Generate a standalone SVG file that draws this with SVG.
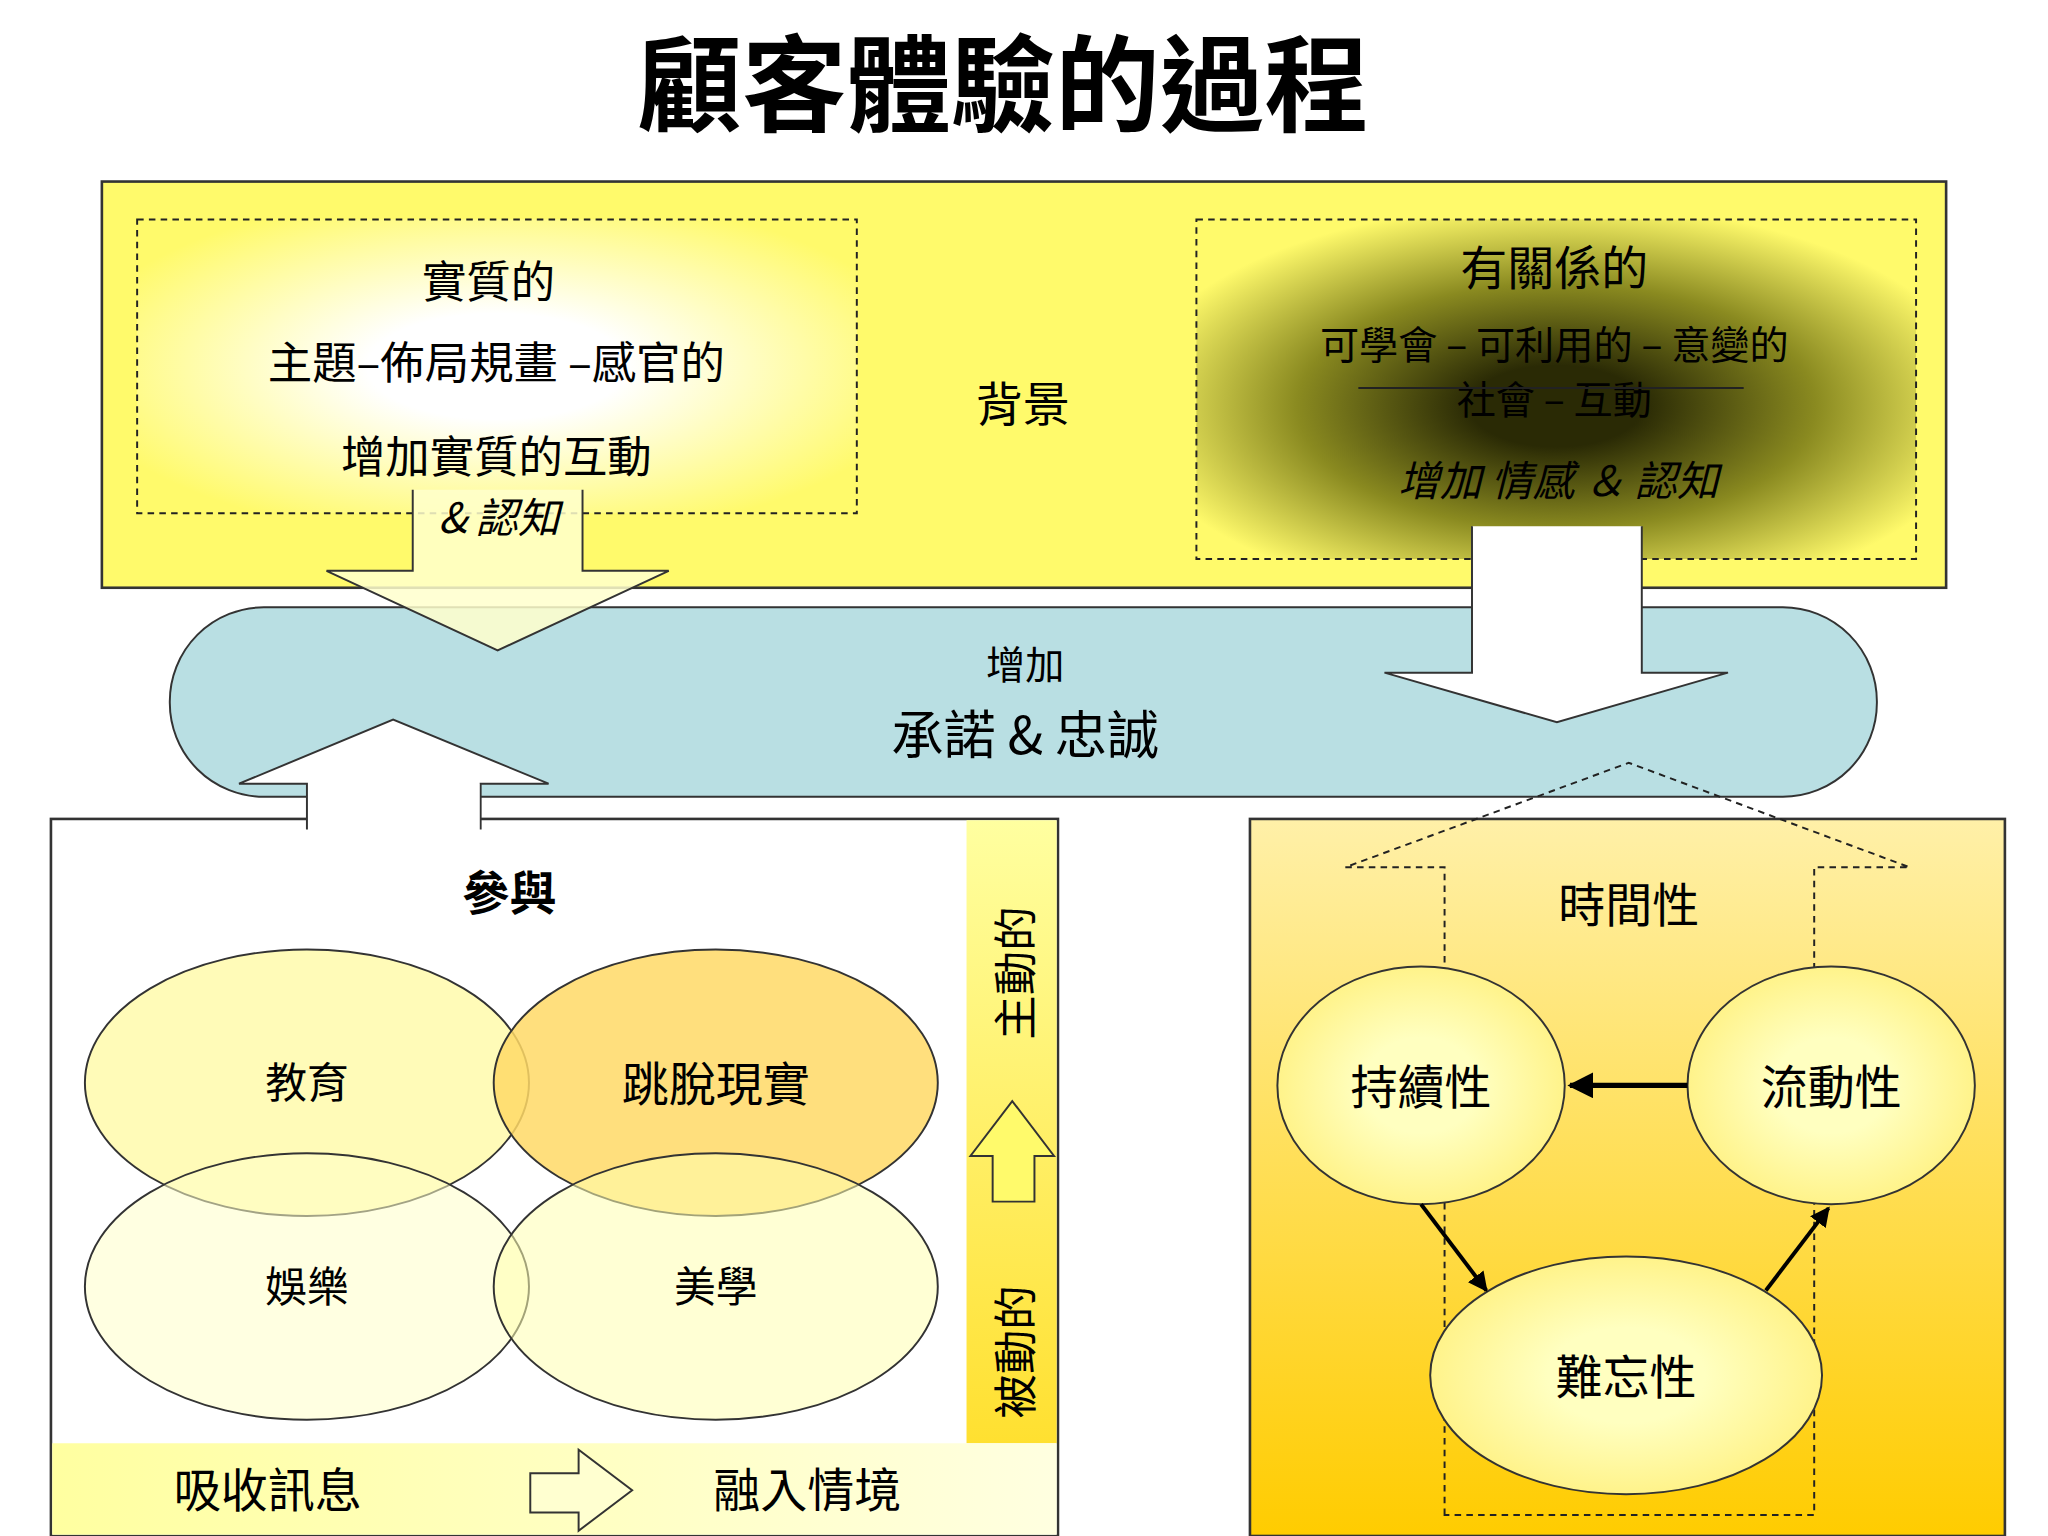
<svg xmlns="http://www.w3.org/2000/svg" width="2048" height="1536" viewBox="0 0 2048 1536">
<defs>
<style>
text{font-family:"Noto Sans CJK TC","Noto Sans CJK SC",sans-serif;fill:#000;text-anchor:middle}
.it{font-style:italic}
.dash{fill:none;stroke:#222;stroke-width:1.5;stroke-dasharray:5,4}
.ln{stroke:#222;stroke-width:1.5}
</style>
<radialGradient id="gl" cx="0.5" cy="0.5" r="0.6"><stop offset="0.3" stop-color="#fff"/><stop offset="1" stop-color="#FFFA6B"/></radialGradient>
<radialGradient id="gd" cx="0.5" cy="0.55" r="0.6"><stop offset="0.2" stop-color="#2a2a05"/><stop offset="0.6" stop-color="#8a8a20"/><stop offset="1" stop-color="#FFFA6B"/></radialGradient>
<linearGradient id="gr" x1="0" y1="0" x2="0" y2="1"><stop offset="0" stop-color="#FFF0A8"/><stop offset="1" stop-color="#FFCC00"/></linearGradient>
<linearGradient id="gs" x1="0" y1="0" x2="0" y2="1"><stop offset="0" stop-color="#FFFFA0"/><stop offset="1" stop-color="#FFE030"/></linearGradient>
<linearGradient id="gb" x1="0" y1="0" x2="1" y2="0"><stop offset="0" stop-color="#FFFFA0"/><stop offset="1" stop-color="#FFFFE0"/></linearGradient>
<radialGradient id="ge" cx="0.5" cy="0.5" r="0.5"><stop offset="0.4" stop-color="#FFFFC0"/><stop offset="1" stop-color="#FFF38A"/></radialGradient>
<marker id="ah" viewBox="0 0 10 10" refX="9" refY="5" markerWidth="5" markerHeight="5" orient="auto"><path d="M0,0L10,5L0,10z" fill="#000"/></marker>
</defs>
<g transform="scale(1.30612)">
<text id="title" x="768" y="94" font-size="80" font-weight="bold">顧客體驗的過程</text>
<g id="background">
<rect x="78" y="139" width="1412" height="311" fill="#FFFA6B" stroke="#333" stroke-width="2"/>
<rect x="105" y="168" width="551" height="225" fill="url(#gl)"/>
<rect x="105" y="168" width="551" height="225" class="dash"/>
<rect x="916" y="168" width="551" height="260" fill="url(#gd)"/>
<rect x="916" y="168" width="551" height="260" class="dash"/>
<text x="783" y="322" font-size="36">背景</text>
</g>
<g id="text-right">
<text x="1190" y="218" font-size="36">有關係的</text>
<text x="1190" y="275" font-size="30">可學會 – 可利用的 – 意變的</text>
<text x="1190" y="317" font-size="30">社會 – 互動</text>
<line x1="1040" y1="297" x2="1335" y2="297" class="ln"/>
<text x="1193" y="380" font-size="32" class="it">增加 情感 ＆ 認知</text>
</g>
<g id="pill">
<rect x="130" y="465" width="1307" height="145" rx="72" fill="#B9DFE3" stroke="#333" stroke-width="1.5"/>
<text x="785" y="520" font-size="30">增加</text>
<text x="785" y="577" font-size="40">承諾 &amp; 忠誠</text>
</g>
<g id="arrow-left-down">
<path d="M316,375V437H250L381,498L512,437H446V375" fill="#FFFFCC" fill-opacity="0.85" stroke="#333" stroke-width="1.5"/>
</g>
<g id="text-left">
<text x="374" y="228" font-size="34">實質的</text>
<text x="380" y="290" font-size="34">主題–佈局規畫 –感官的</text>
<text x="380" y="362" font-size="34">增加實質的互動</text>
<text x="382" y="408" font-size="32" class="it">&amp; 認知</text>
</g>
<g id="arrow-right-down">
<path d="M1127,403V515H1060L1192,553L1323,515H1257V403" fill="#fff" stroke="#333" stroke-width="1.5"/>
</g>
<g id="left-box">
<rect x="39" y="627" width="771" height="549" fill="#fff" stroke="#333" stroke-width="2"/>
<rect x="740" y="628" width="69" height="477" fill="url(#gs)"/>
<rect x="40" y="1105" width="769" height="70" fill="url(#gb)"/>
<text x="390" y="697" font-size="36" font-weight="bold">參與</text>
<ellipse cx="235" cy="829" rx="170" ry="102" fill="#FFF9A0" fill-opacity="0.75" stroke="#333" stroke-width="1.5"/>
<ellipse cx="548" cy="829" rx="170" ry="102" fill="#FFD966" fill-opacity="0.85" stroke="#333" stroke-width="1.5"/>
<ellipse cx="235" cy="985" rx="170" ry="102" fill="#FFFFC8" fill-opacity="0.55" stroke="#333" stroke-width="1.5"/>
<ellipse cx="548" cy="985" rx="170" ry="102" fill="#FFFFB0" fill-opacity="0.55" stroke="#333" stroke-width="1.5"/>
<text x="235" y="841" font-size="32">教育</text>
<text x="548" y="843" font-size="36">跳脫現實</text>
<text x="235" y="997" font-size="32">娛樂</text>
<text x="548" y="997" font-size="32">美學</text>
<text transform="translate(790,745) rotate(-90)" font-size="34">主動的</text>
<text transform="translate(790,1035) rotate(-90)" font-size="34">被動的</text>
<path d="M760,920V885H743L775,843L807,885H792V920Z" fill="#FFFA6B" stroke="#333" stroke-width="1.5"/>
<text x="205" y="1154" font-size="36">吸收訊息</text>
<path d="M406,1128H443V1110L484,1141L443,1172V1158H406Z" fill="#FFFFD0" stroke="#333" stroke-width="1.5"/>
<text x="618" y="1154" font-size="36">融入情境</text>
</g>
<g id="arrow-left-up">
<path d="M235,635V600H183L301,551L420,600H368V635" fill="#fff" stroke="#333" stroke-width="1.5"/>
<rect x="236" y="600" width="131" height="40" fill="#fff"/>
</g>
<g id="right-box">
<rect x="957" y="627" width="578" height="549" fill="url(#gr)" stroke="#333" stroke-width="2"/>
<path d="M1106,1160V664H1030L1247,584L1462,664H1389V1160Z" class="dash"/>
<text x="1247" y="706" font-size="36">時間性</text>
<ellipse cx="1088" cy="831" rx="110" ry="91" fill="url(#ge)" stroke="#333" stroke-width="1.5"/>
<ellipse cx="1402" cy="831" rx="110" ry="91" fill="url(#ge)" stroke="#333" stroke-width="1.5"/>
<ellipse cx="1245" cy="1053" rx="150" ry="91" fill="url(#ge)" stroke="#333" stroke-width="1.5"/>
<text x="1088" y="845" font-size="36">持續性</text>
<text x="1402" y="845" font-size="36">流動性</text>
<text x="1245" y="1067" font-size="36">難忘性</text>
</g>
<g id="connectors">
<line x1="1292" y1="831" x2="1202" y2="831" stroke="#000" stroke-width="4" marker-end="url(#ah)"/>
<line x1="1088" y1="922" x2="1138" y2="988" stroke="#000" stroke-width="3" marker-end="url(#ah)"/>
<line x1="1352" y1="988" x2="1400" y2="925" stroke="#000" stroke-width="3" marker-end="url(#ah)"/>
</g>
</g>
</svg>
